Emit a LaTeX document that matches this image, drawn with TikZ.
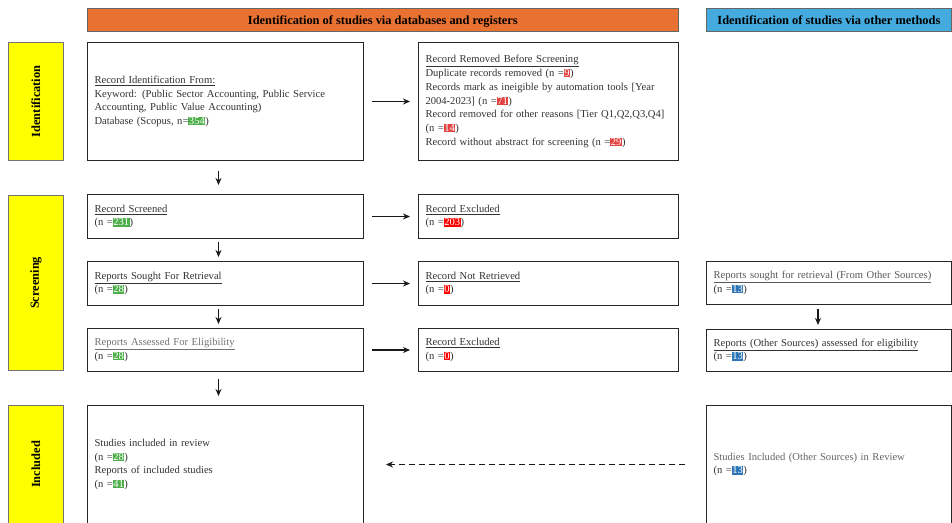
\documentclass[tikz,border=0pt]{standalone}
\usepackage{fontspec}
\setmainfont{Liberation Serif}
\usepackage{xcolor}
\usepackage{tikz}
\usetikzlibrary{arrows.meta}

\definecolor{hdrorange}{HTML}{E97132}
\definecolor{hdrblue}{HTML}{45AADD}
\definecolor{sideyellow}{HTML}{FFFF00}
\definecolor{hlgreen}{HTML}{4EAF4A}
\definecolor{hlred}{HTML}{E0413F}
\definecolor{hlbright}{HTML}{FF0000}
\definecolor{hlblue}{HTML}{2E75B6}

\newcommand{\hlg}[1]{{\setlength{\fboxsep}{0.5pt}\colorbox{hlgreen}{\textcolor{white}{#1}}}}
\newcommand{\hlr}[1]{{\setlength{\fboxsep}{0.5pt}\colorbox{hlred}{\textcolor{white}{#1}}}}
\newcommand{\hlrr}[1]{{\setlength{\fboxsep}{0.5pt}\colorbox{hlbright}{\textcolor{white}{#1}}}}
\newcommand{\hlb}[1]{{\setlength{\fboxsep}{0.5pt}\colorbox{hlblue}{\textcolor{white}{#1}}}}

\tikzset{
    box/.style={draw=black!85, line width=1pt, anchor=north west, align=left,
        inner xsep=7pt, inner ysep=2pt, text=black!80,
        font=\fontsize{10.6}{13.7}\selectfont},
    head/.style={draw=black!60, line width=0.8pt, anchor=north west, text depth=0pt,
        minimum height=23pt, font=\fontsize{12.4}{13}\selectfont\bfseries},
    side/.style={draw=black!55, line width=0.8pt, anchor=north west, fill=sideyellow,
        minimum width=55pt, font=\fontsize{12.4}{13}\selectfont\bfseries},
    arr/.style={-{Stealth[length=7pt,width=6pt]}, line width=1.5pt, black!90},
}

\begin{document}
\begin{tikzpicture}[x=1pt,y=-1pt]
    \clip (0,0) rectangle (952,522);
    \fill[white] (0,0) rectangle (952,522);

    % headers
    \node[head, fill=hdrorange, minimum width=591pt] (hdb) at (87,8)
        {Identification of studies via databases and registers};
    \node[head, fill=hdrblue, minimum width=245pt] (hoth) at (706,8)
        {Identification of studies via other methods};

    % phases
    \node[side, minimum height=118pt] (pid) at (8,42) {\rotatebox{90}{Identification}};
    \node[side, minimum height=175pt] (pscr) at (8,195) {\rotatebox{90}{Screening}};
    \node[side, minimum height=118pt] (pinc) at (8,405) {\rotatebox{90}{Included}};

    % databases column
    \node[box, text width=262pt, minimum height=118pt] (ident) at (87,42)
        {\underline{Record Identification From:}\\
         Keyword: (Public Sector Accounting, Public Service\\
         Accounting, Public Value Accounting)\\
         Database (Scopus, n=\hlg{354})};
    \node[box, text width=246pt, minimum height=118pt] (removed) at (418,42)
        {\underline{Record Removed Before Screening}\\
         Duplicate records removed (n =\hlr{9})\\
         Records mark as ineigible by automation tools [Year\\
         2004-2023] (n =\hlr{71})\\
         Record removed for other reasons [Tier Q1,Q2,Q3,Q4]\\
         (n =\hlr{14})\\
         Record without abstract for screening (n =\hlr{29})};

    \node[box, text width=262pt, minimum height=44pt] (screened) at (87,194)
        {\underline{Record Screened}\\(n =\hlg{231})};
    \node[box, text width=246pt, minimum height=44pt] (excl) at (418,194)
        {\underline{Record Excluded}\\(n =\hlrr{203})};

    \node[box, text width=262pt, minimum height=44pt] (sought) at (87,261)
        {\underline{Reports Sought For Retrieval}\\(n =\hlg{28})};
    \node[box, text width=246pt, minimum height=44pt] (notret) at (418,261)
        {\underline{Record Not Retrieved}\\(n =\hlrr{0})};

    \node[box, text width=262pt, minimum height=43pt] (assessed) at (87,328)
        {\textcolor{black!55}{\underline{Reports Assessed For Eligibility}}\\(n =\hlg{28})};
    \node[box, text width=246pt, minimum height=43pt] (excltwo) at (418,328)
        {\underline{Record Excluded}\\(n =\hlrr{0})};

    \node[box, text width=262pt, minimum height=118pt] (incl) at (87,405)
        {Studies included in review\\(n =\hlg{28})\\
         Reports of included studies\\(n =\hlg{41})};

    % other methods column
    \node[box, text width=231pt, minimum height=43pt] (osought) at (706,261)
        {\textcolor{black!65}{\underline{Reports sought for retrieval (From Other Sources)}}\\(n =\hlb{13})};
    \node[box, text width=231pt, minimum height=42pt] (oassess) at (706,329)
        {\underline{Reports (Other Sources) assessed for eligibility}\\(n =\hlb{13})};
    \node[box, text width=231pt, minimum height=118pt] (oincl) at (706,405)
        {\textcolor{black!60}{Studies Included (Other Sources) in Review}\\(n =\hlb{13})};

    % flow
    \draw[arr, shorten <=8pt, shorten >=8pt] (ident) -- (removed);
    \draw[arr, shorten <=8pt, shorten >=8pt] (screened) -- (excl);
    \draw[arr, line width=1.1pt, shorten <=8pt, shorten >=8pt] (sought) -- (notret);
    \draw[arr, line width=1.1pt, shorten <=8pt, shorten >=8pt] (assessed) -- (excltwo);

    \draw[arr, line width=1.2pt, shorten <=10pt, shorten >=9pt] ([xshift=-7pt]ident.south) -- ([xshift=-7pt]screened.north);
    \draw[arr, line width=1.2pt, shorten <=3pt, shorten >=4pt] ([xshift=-7pt]screened.south) -- ([xshift=-7pt]sought.north);
    \draw[arr, line width=1.2pt, shorten <=3pt, shorten >=4pt] ([xshift=-7pt]sought.south) -- ([xshift=-7pt]assessed.north);
    \draw[arr, line width=1.2pt, shorten <=7pt, shorten >=9pt] ([xshift=-7pt]assessed.south) -- ([xshift=-7pt]incl.north);
    \draw[arr, line width=1.2pt, shorten <=4pt, shorten >=4pt] ([xshift=-11pt]osought.south) -- ([xshift=-11pt]oassess.north);

    \draw[arr, line width=1.2pt, dash pattern=on 6pt off 4pt, shorten <=21pt, shorten >=22pt] (oincl) -- (incl);
\end{tikzpicture}
\end{document}
